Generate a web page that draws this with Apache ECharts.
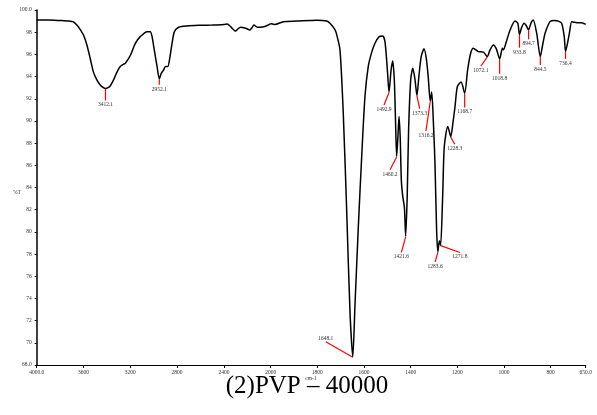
<!DOCTYPE html>
<html>
<head>
<meta charset="utf-8">
<script src="https://cdn.jsdelivr.net/npm/echarts@6/dist/echarts.min.js"></script>
<style>html,body{margin:0;padding:0;background:#fff}#c{width:597px;height:415px}</style>
</head>
<body>
<div id="c"></div>
<script>
// Spectrum, 4000-2000 cm-1 region (compressed scale)
var spectrumHigh = [[4000,99.1],[3900,99.1],[3800,99.05],[3720,99.0],[3690,98.95],[3657,98.65],[3629,98.26],[3600,97.75],[3571,96.85],[3543,95.65],[3515,94.4],[3486,93.7],[3457,93.24],[3430,93.0],[3412.1,92.93],[3390,93.0],[3372,93.15],[3343,93.7],[3314,94.4],[3286,94.9],[3260,95.1],[3243,95.2],[3200,95.9],[3157,97.0],[3115,97.6],[3057,98.05],[3029,98.05],[3014,97.6],[2995,96.4],[2971,94.9],[2952.1,93.8],[2935,94.3],[2915,94.6],[2900,94.9],[2880,94.9],[2863,95.65],[2843,97.0],[2823,98.05],[2786,98.44],[2714,98.56],[2600,98.62],[2500,98.65],[2400,98.7],[2371,98.74],[2343,98.5],[2300,98.1],[2280,98.3],[2257,98.44],[2214,98.35],[2178,98.2],[2160,98.4],[2143,98.65],[2114,98.44],[2057,98.5],[2030,98.6],[2000,98.78]];
// Spectrum, 2000-650 cm-1 region
var spectrumLow = [[2000,98.78],[1982,98.7],[1946,98.95],[1889,99.0],[1803,99.07],[1760,99.0],[1746,98.8],[1724,98.2],[1715,97.6],[1703,96.4],[1689,90.7],[1674,81.7],[1660,72.7],[1648.1,68.75],[1639,73.3],[1625,80.2],[1610,86.8],[1596,92.2],[1582,94.9],[1567,96.2],[1553,97.0],[1535,97.6],[1520,97.65],[1510,97.1],[1500,94.6],[1492.9,92.6],[1484,94.6],[1477,95.4],[1470,93.6],[1465,90.0],[1460.2,86.8],[1455,88.5],[1450,90.4],[1445,88.5],[1440,84.6],[1434,83.2],[1427,82.2],[1421.6,79.6],[1415,83.2],[1409,89.2],[1400,93.7],[1391,94.75],[1382,93.8],[1373.3,92.3],[1365,94.0],[1355,95.8],[1343,96.5],[1333,95.6],[1325,94.0],[1316.2,91.8],[1310,92.6],[1303,90.0],[1296,86.2],[1289,80.2],[1283.6,78.2],[1277,79.2],[1271.8,78.8],[1263,83.2],[1256,87.7],[1241,89.5],[1228.3,88.6],[1218,90.0],[1210,91.3],[1200,93.1],[1184,93.5],[1168.7,92.5],[1156,94.6],[1143,96.1],[1132,96.55],[1110,96.25],[1088,96.2],[1072.1,95.8],[1060,96.4],[1046,96.85],[1033,96.5],[1018.8,95.6],[1007,96.55],[1003,96.4],[988,97.3],[974,98.2],[953,99.0],[941,98.8],[933.8,97.8],[925,98.4],[914,98.8],[905,98.6],[894.7,98.2],[885,98.8],[875,99.1],[860,97.9],[844.5,95.8],[835,96.8],[824,97.9],[803,98.95],[785,99.05],[767,99.0],[753,98.8],[742,97.6],[736.4,96.25],[728,97.0],[720,97.9],[710,98.95],[700,98.9],[688,98.86],[667,98.86],[650,98.7]];

// Peak annotations
var peaksHigh = [[3412.1,92.93],[2952.1,93.8]];
var peaksLow = [[1648.1,68.75],[1492.9,92.6],[1460.2,86.8],[1421.6,79.6],[1373.3,92.3],[1316.2,91.8],[1283.6,78.2],[1271.8,78.8],[1228.3,88.6],[1168.7,92.5],[1072.1,95.8],[1018.8,95.6],[933.8,97.8],[894.7,98.2],[844.5,95.8],[736.4,96.25]];

// Tick values
var yTicks = [68,70,72,74,76,78,80,82,84,86,88,90,92,94,96,98,100];
var xTicksHigh = [2000,2400,2800,3200,3600,4000];
var xTicksLow = [650,800,1000,1200,1400,1600,1800];

// Layout of leader lines (pixel offsets of the line end, label placement) — style only
var leadHigh = [[0,12,'below'],[0,6,'below']];
var leadLow = [[-27,-15,'above'],[-5,13,'below'],[-6.6,13.4,'below'],[-4.3,16,'below'],[2.7,13.3,'below'],[-4.3,30,'below'],[-2.7,10,'below'],[19.3,7.3,'below'],[4,7.7,'below'],[0,14.3,'below'],[-6.3,9.4,'below'],[0,15,'below'],[0,13.3,'below'],[0,9.3,'below'],[0,8.4,'below'],[0,7.3,'below']];

var FONT = 'Liberation Serif';
var TXT = '#333';

function makeRender(lead){
  return function(params, api){
    var w = api.value(0), t = api.value(1);
    var p = api.coord([w, t]);
    var L = lead[params.dataIndex];
    var ex = p[0] + L[0], ey = p[1] + L[1];
    var ly = L[2] === 'above' ? ey - 3.5 : ey + 4.5;
    return {
      type: 'group',
      children: [
        {type:'line', shape:{x1:p[0], y1:p[1]+0.5, x2:ex, y2:ey}, style:{stroke:'#ff0000', lineWidth:1.2}},
        {type:'text', style:{text: w.toFixed(1), x: ex, y: ly, align:'center', verticalAlign:'middle', fontSize:5.5, fontFamily:FONT, fill:TXT}}
      ]
    };
  };
}

var chart = echarts.init(document.getElementById('c'), null, {renderer:'canvas'});
var gridTop = 10, gridBottom = 50;
var option = {
  animation: false,
  backgroundColor: '#fff',
  grid: [
    {left: 36.7, width: 234, top: gridTop, bottom: gridBottom, containLabel:false},
    {left: 270.7, width: 315, top: gridTop, bottom: gridBottom, containLabel:false}
  ],
  xAxis: [
    {type:'value', gridIndex:0, min:2000, max:4000, inverse:true, splitLine:{show:false},
     axisLine:{show:true, onZero:false, lineStyle:{color:'#000', width:1.2}},
     axisTick:{show:true, customValues:xTicksHigh, length:3, lineStyle:{color:'#000'}},
     axisLabel:{customValues:xTicksHigh.filter(function(v){return v!==2000;}).concat([2000]), margin:5, fontSize:5.5, fontFamily:FONT, color:TXT,
       formatter:function(v){return v===4000?'4000.0':String(v);}}},
    {type:'value', gridIndex:1, min:650, max:2000, inverse:true, splitLine:{show:false},
     axisLine:{show:true, onZero:false, lineStyle:{color:'#000', width:1.2}},
     axisTick:{show:true, customValues:xTicksLow, length:3, lineStyle:{color:'#000'}},
     axisLabel:{customValues:xTicksLow, margin:5, fontSize:5.5, fontFamily:FONT, color:TXT,
       formatter:function(v){return v===650?'650.0':String(v);}}}
  ],
  yAxis: [
    {type:'value', gridIndex:0, min:68, max:100, splitLine:{show:false},
     axisLine:{show:true, onZero:false, lineStyle:{color:'#000', width:1.5}},
     axisTick:{show:true, customValues:yTicks, length:2, lineStyle:{color:'#000'}},
     axisLabel:{customValues:yTicks, margin:5, fontSize:5.5, fontFamily:FONT, color:TXT,
       formatter:function(v){return (v===100||v===68)?v.toFixed(1):String(v);}}},
    {type:'value', gridIndex:1, min:68, max:100, show:false, splitLine:{show:false}}
  ],
  graphic: [
    {type:'text', x:17, y:193, style:{text:'%T', align:'center', verticalAlign:'middle', fontSize:5.5, fontFamily:FONT, fill:TXT}},
    {type:'text', x:311, y:379, style:{text:'cm-1', align:'center', verticalAlign:'middle', fontSize:5.5, fontFamily:FONT, fill:TXT}},
    {type:'text', x:307, y:386, style:{text:'(2)PVP – 40000', align:'center', verticalAlign:'middle', fontSize:25, fontFamily:FONT, fill:'#000'}}
  ],
  series: [
    {type:'line', xAxisIndex:0, yAxisIndex:0, data:spectrumHigh, showSymbol:false, smooth:0.25, lineStyle:{color:'#000', width:1.5}, z:3},
    {type:'line', xAxisIndex:1, yAxisIndex:1, data:spectrumLow, showSymbol:false, smooth:0.25, lineStyle:{color:'#000', width:1.5}, z:3},
    {type:'custom', xAxisIndex:0, yAxisIndex:0, data:peaksHigh, renderItem:makeRender(leadHigh), z:2, clip:false},
    {type:'custom', xAxisIndex:1, yAxisIndex:1, data:peaksLow, renderItem:makeRender(leadLow), z:2, clip:false}
  ]
};
chart.setOption(option);
</script>
</body>
</html>
